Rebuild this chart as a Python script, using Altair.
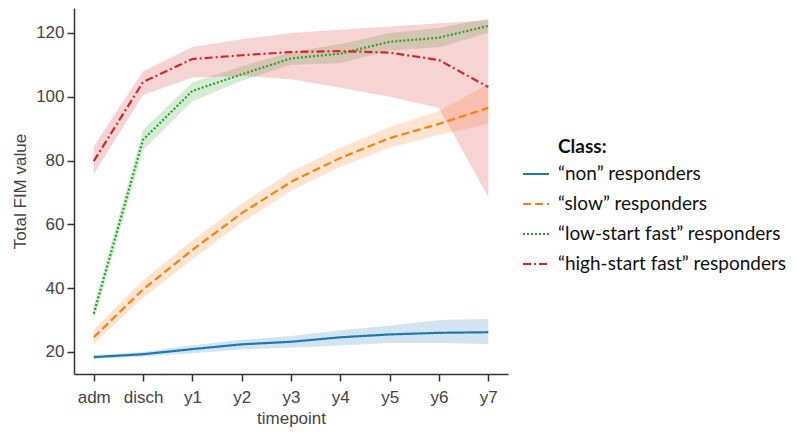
import altair as alt
import pandas as pd

timepoints = ["adm", "disch", "y1", "y2", "y3", "y4", "y5", "y6", "y7"]
classes = ["\u201cnon\u201d responders", "\u201cslow\u201d responders",
           "\u201clow-start fast\u201d responders", "\u201chigh-start fast\u201d responders"]
legend_title = ["Class:"]

non_mean = [18.4, 19.3, 20.9, 22.4, 23.2, 24.6, 25.5, 26.0, 26.2]
non_lo = [17.8, 18.6, 19.6, 20.8, 21.3, 22.0, 22.8, 22.8, 22.5]
non_hi = [19.0, 20.0, 22.1, 23.8, 25.0, 26.8, 28.2, 30.0, 30.3]

slow_mean = [24.6, 39.6, 52.0, 63.5, 73.3, 80.8, 87.0, 91.5, 96.5]
slow_lo = [22.5, 37.0, 49.0, 60.5, 70.5, 78.0, 84.0, 88.0, 91.5]
slow_hi = [27.0, 42.5, 55.0, 66.5, 76.5, 84.0, 90.5, 95.5, 104.0]

low_mean = [32.0, 86.5, 101.8, 107.0, 112.0, 113.5, 117.2, 118.5, 122.2]
low_lo = [29.5, 83.3, 98.5, 105.0, 110.0, 110.5, 114.5, 115.5, 120.0]
low_hi = [34.5, 89.6, 104.5, 109.5, 114.0, 116.5, 120.0, 121.5, 124.5]

high_mean = [79.8, 104.6, 111.8, 113.0, 114.0, 114.3, 113.8, 111.5, 103.0]
high_lo = [75.7, 100.5, 106.0, 106.5, 105.5, 102.8, 100.0, 96.5, 68.5]
high_hi = [84.5, 108.0, 115.6, 118.0, 120.0, 121.0, 122.0, 123.0, 124.0]

colors = ["#1f77b4", "#ff7f0e", "#2ca02c", "#d62728"]
dashes = [[1, 0], [8, 4], [2, 2], [8, 3, 2, 3]]

series = [
    (classes[0], non_mean, non_lo, non_hi),
    (classes[1], slow_mean, slow_lo, slow_hi),
    (classes[2], low_mean, low_lo, low_hi),
    (classes[3], high_mean, high_lo, high_hi),
]
rows = []
for name, m, lo, hi in series:
    for t, a, b, c in zip(timepoints, m, lo, hi):
        rows.append({"timepoint": t, "Class": name, "value": a, "lo": b, "hi": c})
df = pd.DataFrame(rows)

xenc = alt.X("timepoint:O", sort=timepoints, title="timepoint",
             scale=alt.Scale(type="point", padding=0.4),
             axis=alt.Axis(labelAngle=0, labelPadding=8, titlePadding=5))
yscale = alt.Scale(domain=[13.1, 127.8], nice=False, zero=False)

leg = alt.Legend(orient="none", legendX=448, legendY=152, title=None,
                 symbolType="stroke", symbolSize=676, symbolStrokeWidth=2,
                 labelFont="Lato", labelFontSize=19, labelColor="#111111",
                 rowPadding=6, labelOffset=8, labelLimit=400)

base = alt.Chart(df)

bands = base.mark_area(opacity=0.2).encode(
    x=xenc,
    y=alt.Y("lo:Q", scale=yscale),
    y2="hi:Q",
    fill=alt.Fill("Class:N", scale=alt.Scale(domain=classes, range=colors), legend=None),
)

lines = base.mark_line(strokeWidth=2.2).encode(
    x=xenc,
    y=alt.Y("value:Q", title="Total FIM value", scale=yscale,
            axis=alt.Axis(values=[20, 40, 60, 80, 100, 120], labelPadding=3, titlePadding=6)),
    stroke=alt.Stroke("Class:N", scale=alt.Scale(domain=classes, range=colors), legend=leg),
    strokeDash=alt.StrokeDash("Class:N", scale=alt.Scale(domain=classes, range=dashes), legend=leg),
)

title_txt = alt.Chart(pd.DataFrame({"t": legend_title})).mark_text(
    align="left", baseline="middle", font="Lato", fontWeight="bold",
    fontSize=19, color="#111111"
).encode(x=alt.value(484), y=alt.value(139), text="t:N")

chart = alt.layer(bands, lines, title_txt).resolve_legend(
    fill="independent", stroke="independent", strokeDash="independent"
).properties(
    width=434, height=366,
    autosize=alt.AutoSizeParams(type="none"),
    padding={"left": 66, "top": 0, "right": 281, "bottom": 57},
).configure_view(stroke=None).configure_axis(
    grid=False,
    domainColor="#333333", domainWidth=1.5,
    tickColor="#333333", tickWidth=1.5, tickSize=7,
    labelFont="Liberation Sans", labelFontSize=17, labelColor="#444444",
    titleFont="Liberation Sans", titleFontSize=17, titleFontWeight="normal",
    titleColor="#444444",
)

chart.save("out.html", embed_options={"renderer": "svg", "actions": False})
